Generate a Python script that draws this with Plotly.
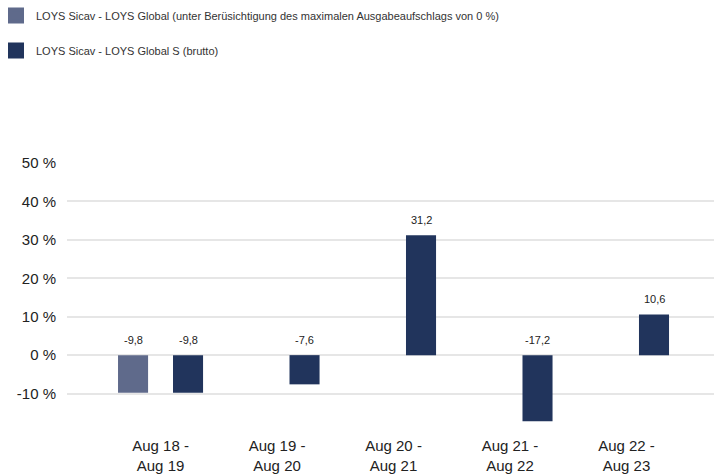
import plotly.graph_objects as go

# Performance per 12-month period (%)
periods = ["Aug 18 -<br>Aug 19", "Aug 19 -<br>Aug 20", "Aug 20 -<br>Aug 21",
           "Aug 21 -<br>Aug 22", "Aug 22 -<br>Aug 23"]
series_names = [
    "LOYS Sicav - LOYS Global (unter Berüsichtigung des maximalen Ausgabeaufschlags von 0 %)",
    "LOYS Sicav - LOYS Global S (brutto)",
]
global_net = [-9.8, None, None, None, None]
global_s_gross = [-9.8, -7.6, 31.2, -17.2, 10.6]
y_ticks = [-10, 0, 10, 20, 30, 40, 50]

colors = ["#5f6a8b", "#21345c"]
FONT = "Liberation Sans, Arial, sans-serif"

W, H = 720, 475
M = dict(l=67, r=6, t=163, b=43)
plot_w = W - M["l"] - M["r"]
plot_h = H - M["t"] - M["b"]

x_pos = list(range(len(periods)))
bar_w = 0.258
offsets = [-0.236 - bar_w / 2, 0.236 - bar_w / 2]

fig = go.Figure()
for vals, name, col, off in zip([global_net, global_s_gross], series_names, colors, offsets):
    fig.add_trace(go.Bar(
        x=x_pos, y=vals, name=name, width=bar_w, offset=off,
        marker=dict(color=col, line=dict(width=0)),
        showlegend=False, hoverinfo="skip",
    ))
    # legend entry with a slightly larger swatch
    fig.add_trace(go.Bar(
        x=[None], y=[None], name=name, legendgroup=name,
        marker=dict(color=col, line=dict(color=col, width=4)),
        showlegend=True,
    ))

    # value labels above the bar top (or above the zero line for negatives)
    for xi, v in zip(x_pos, vals):
        if v is None:
            continue
        fig.add_annotation(
            x=xi + off + bar_w / 2, y=max(v, 0), yshift=15,
            text=f"{v:.1f}".replace(".", ","), showarrow=False,
            font=dict(family=FONT, size=11, color="#222222"),
        )

fig.update_layout(
    width=W, height=H,
    margin=dict(**M, autoexpand=False),
    paper_bgcolor="white", plot_bgcolor="white",
    barmode="overlay",
    font=dict(family=FONT, color="#222222"),
    legend=dict(
        xref="paper", yref="paper",
        x=(-4 - M["l"]) / plot_w, y=1 + (M["t"] - 1) / plot_h,
        xanchor="left", yanchor="top",
        font=dict(family=FONT, size=11, color="#333333"),
        tracegroupgap=16, bgcolor="rgba(0,0,0,0)",
    ),
    xaxis=dict(
        range=[-0.803, 4.751], tickvals=x_pos, ticktext=periods,
        showgrid=False, zeroline=False, showline=False, ticks="",
        tickangle=0, ticklabelstandoff=3,
        tickfont=dict(family=FONT, size=15, color="#222222"),
    ),
    yaxis=dict(
        range=[-20, 50], tickvals=y_ticks,
        ticktext=[f"{t} %" for t in y_ticks],
        showgrid=True, gridcolor="#e6e6e6", gridwidth=1.5,
        zeroline=False, showline=False, ticks="",
        ticklabelstandoff=10,
        tickfont=dict(family=FONT, size=15, color="#222222"),
    ),
)

fig.write_html("out.html")
